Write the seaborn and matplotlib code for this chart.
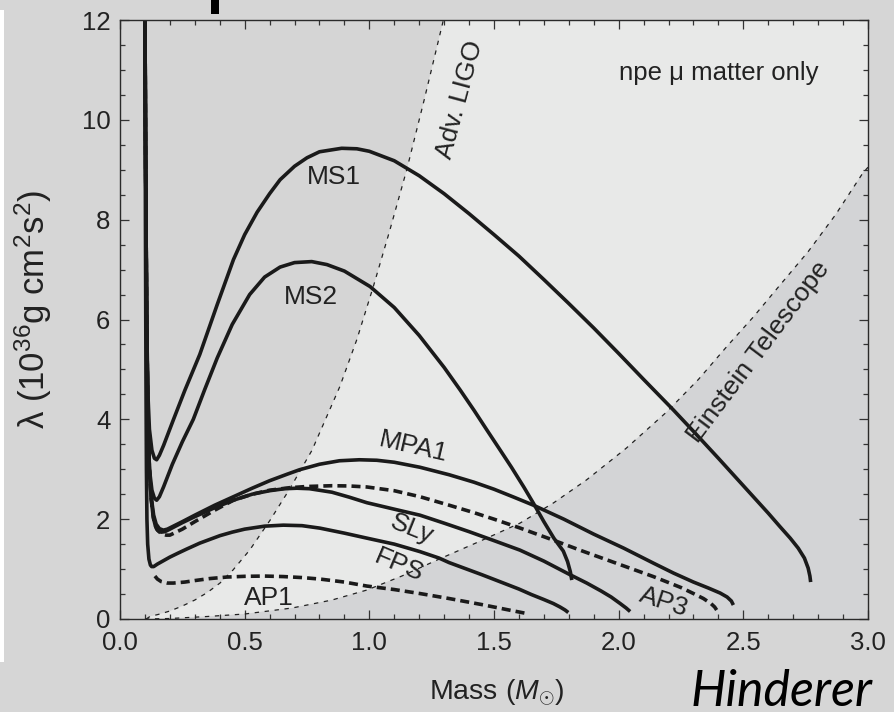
import numpy as np
import pandas as pd
import matplotlib
matplotlib.use("Agg")
import matplotlib.pyplot as plt
from matplotlib.patches import Rectangle
from matplotlib.ticker import MultipleLocator
import seaborn as sns

sns.set_theme(style="ticks")
plt.rcParams['font.family'] = ['Liberation Sans', 'DejaVu Sans']
plt.rcParams['mathtext.fontset'] = 'custom'
plt.rcParams['mathtext.rm'] = 'Liberation Sans'
plt.rcParams['mathtext.it'] = 'Liberation Sans:italic'

# ---------------- data ----------------
ms1_x = [0.100,0.103,0.107,0.112,0.118,0.128,0.138,0.147,0.158,0.175,0.214,0.26,0.32,0.39,0.455,0.5,0.55,0.6,0.642,0.7,0.75,0.8,0.889,0.95,1.0,1.1,1.2,1.3,1.4,1.5,1.6,1.7,1.8,1.9,2.0,2.1,2.219,2.3,2.4,2.5,2.6,2.647,2.688,2.72,2.745,2.76,2.767,2.77]
ms1_y = [12.3,9.0,6.0,4.5,3.8,3.38,3.22,3.19,3.28,3.48,3.99,4.58,5.3,6.3,7.2,7.7,8.15,8.52,8.8,9.07,9.24,9.36,9.43,9.42,9.37,9.18,8.88,8.52,8.12,7.7,7.27,6.8,6.32,5.83,5.32,4.8,4.19,3.76,3.22,2.67,2.12,1.85,1.62,1.42,1.22,1.02,0.86,0.74]

ms2_x = [0.100,0.103,0.107,0.112,0.118,0.128,0.138,0.147,0.158,0.175,0.21,0.25,0.294,0.34,0.39,0.45,0.52,0.58,0.642,0.7,0.769,0.83,0.9,1.003,1.1,1.2,1.3,1.364,1.42,1.471,1.52,1.57,1.62,1.658,1.7,1.74,1.778,1.795,1.806,1.812]
ms2_y = [12.3,9.0,6.0,4.0,3.0,2.58,2.42,2.38,2.45,2.65,3.1,3.55,4.0,4.6,5.23,5.9,6.5,6.85,7.05,7.14,7.16,7.1,6.97,6.66,6.24,5.68,5.04,4.59,4.18,3.79,3.42,3.04,2.64,2.32,1.95,1.62,1.36,1.15,0.95,0.78]

mpa1_x = [0.100,0.103,0.107,0.112,0.118,0.125,0.135,0.145,0.158,0.174,0.19,0.21,0.25,0.3,0.38,0.455,0.53,0.6,0.67,0.72,0.8,0.88,0.96,1.03,1.1,1.203,1.32,1.42,1.5,1.58,1.658,1.78,1.9,2.02,2.139,2.22,2.3,2.36,2.407,2.435,2.452,2.46]
mpa1_y = [12.3,9.0,6.0,4.0,3.0,2.45,2.08,1.9,1.81,1.78,1.8,1.85,1.95,2.08,2.28,2.45,2.62,2.77,2.9,2.99,3.1,3.17,3.19,3.18,3.14,3.04,2.89,2.74,2.6,2.44,2.28,2.0,1.70,1.42,1.12,0.92,0.74,0.62,0.52,0.44,0.36,0.28]

ap3_x = [0.100,0.103,0.107,0.112,0.118,0.125,0.135,0.147,0.165,0.185,0.2,0.25,0.3,0.38,0.455,0.53,0.6,0.68,0.75,0.85,0.92,0.99,1.1,1.203,1.32,1.42,1.5,1.6,1.738,1.85,1.95,2.05,2.139,2.2,2.25,2.3,2.34,2.37,2.385,2.393]
ap3_y = [12.3,9.0,6.0,4.0,3.0,2.4,2.0,1.8,1.71,1.68,1.68,1.8,1.95,2.18,2.38,2.5,2.58,2.63,2.655,2.67,2.665,2.645,2.57,2.45,2.28,2.13,2.0,1.83,1.58,1.37,1.19,1.01,0.85,0.73,0.63,0.51,0.41,0.31,0.24,0.18]

sly_x = [0.100,0.103,0.107,0.112,0.118,0.125,0.133,0.142,0.152,0.165,0.18,0.2,0.25,0.3,0.38,0.455,0.53,0.6,0.66,0.71,0.76,0.85,0.92,0.99,1.1,1.203,1.3,1.4,1.5,1.604,1.7,1.8,1.872,1.93,1.97,2.006,2.03,2.046]
sly_y = [12.3,9.0,6.0,4.0,3.0,2.42,2.05,1.86,1.77,1.74,1.75,1.8,1.93,2.05,2.23,2.38,2.5,2.57,2.61,2.62,2.61,2.54,2.44,2.33,2.2,2.08,1.92,1.75,1.57,1.38,1.16,0.9,0.72,0.56,0.44,0.31,0.22,0.15]

fps_x = [0.100,0.102,0.104,0.106,0.108,0.111,0.116,0.122,0.127,0.135,0.15,0.175,0.2,0.233,0.267,0.32,0.401,0.45,0.5,0.58,0.655,0.73,0.802,0.9,0.99,1.1,1.203,1.28,1.32,1.45,1.538,1.6,1.65,1.7,1.738,1.765,1.785,1.798]
fps_y = [12.3,8.0,5.0,3.0,2.0,1.5,1.2,1.08,1.05,1.05,1.1,1.17,1.24,1.32,1.4,1.52,1.67,1.74,1.8,1.86,1.88,1.87,1.82,1.72,1.62,1.5,1.35,1.22,1.13,0.89,0.72,0.6,0.49,0.39,0.31,0.24,0.18,0.13]

ap1_x = [0.14,0.15,0.165,0.19,0.214,0.26,0.3,0.36,0.428,0.5,0.58,0.655,0.73,0.802,0.9,0.99,1.1,1.203,1.32,1.45,1.55,1.631]
ap1_y = [0.86,0.8,0.75,0.72,0.72,0.74,0.77,0.81,0.84,0.855,0.86,0.85,0.83,0.8,0.74,0.66,0.59,0.51,0.41,0.29,0.19,0.11]

ligo_x = [0.105,0.12,0.16,0.2,0.25,0.3,0.35,0.401,0.453,0.52,0.602,0.68,0.77,0.882,0.95,1.016,1.08,1.15,1.22,1.297]
ligo_y = [0.0,0.05,0.1,0.16,0.26,0.38,0.53,0.72,0.98,1.38,1.98,2.6,3.38,4.66,5.6,6.66,7.75,9.0,10.4,12.0]

et_x = [0.1,0.2,0.35,0.5,0.69,0.85,0.99,1.13,1.28,1.44,1.604,1.74,1.872,2.03,2.193,2.32,2.434,2.54,2.647,2.76,2.87,2.98,3.0]
et_y = [0.0,0.01,0.05,0.1,0.22,0.38,0.58,0.86,1.2,1.55,1.92,2.33,2.79,3.42,4.15,4.8,5.46,6.05,6.69,7.36,8.1,8.94,9.05]

x_ticks = [0.0, 0.5, 1.0, 1.5, 2.0, 2.5, 3.0]
y_ticks = [0, 2, 4, 6, 8, 10, 12]

# ---------------- figure ----------------
W, H = 895, 712
fig = plt.figure(figsize=(W/100, H/100), dpi=100, facecolor='#d6d6d6')
ax = fig.add_axes([120/W, (H-619)/H, 748/W, 599/H])
ax.set_facecolor('#d5d5d5')
ax.set_xlim(0, 3)
ax.set_ylim(0, 12)

# light region between Adv. LIGO and Einstein Telescope curves
poly_x = list(ligo_x) + [3.0] + list(et_x[::-1])
poly_y = list(ligo_y) + [12.0] + list(et_y[::-1])
ax.fill(poly_x, poly_y, color='#e8e9e8', lw=0, zorder=0.5)
# region below ET
ax.fill(list(et_x) + [3.0], list(et_y) + [0.0], color='#d3d4d6', lw=0, zorder=0.5)

thin = dict(color='#222222', lw=0.9, dashes=(3.5, 4.5), sort=False, estimator=None)
sns.lineplot(x=ligo_x, y=ligo_y, ax=ax, **thin)
sns.lineplot(x=et_x, y=et_y, ax=ax, **thin)

solid = dict(color='#1a1a1a', lw=2.6, sort=False, estimator=None)
dash = dict(color='#1a1a1a', lw=2.6, dashes=(2.5, 1.4), sort=False, estimator=None)
for xs, ys in [(ms1_x, ms1_y), (ms2_x, ms2_y), (mpa1_x, mpa1_y), (sly_x, sly_y), (fps_x, fps_y)]:
    sns.lineplot(x=xs, y=ys, ax=ax, **solid)
for xs, ys in [(ap3_x, ap3_y), (ap1_x, ap1_y)]:
    sns.lineplot(x=xs, y=ys, ax=ax, **dash)
for l in ax.lines:
    l.set_solid_joinstyle('round')
    l.set_solid_capstyle('butt')

# ticks & spines
ax.set_xticks(x_ticks)
ax.set_xticklabels([f"{v:.1f}" for v in x_ticks])
ax.set_yticks(y_ticks)
ax.set_yticklabels([str(v) for v in y_ticks])
ax.xaxis.set_minor_locator(MultipleLocator(0.1))
ax.yaxis.set_minor_locator(MultipleLocator(0.5))
ax.tick_params(which='both', direction='in', top=True, right=True, color='#333333', width=0.9)
ax.tick_params(which='major', length=6.5, labelsize=18.5, labelcolor='#222222')
ax.tick_params(which='minor', length=3.8)
ax.tick_params(axis='x', which='major', pad=9)
ax.tick_params(axis='y', which='major', pad=7)
for s in ax.spines.values():
    s.set_color('#2a2a2a')
    s.set_linewidth(1.0)
    s.set_visible(True)
ax.set_xlabel('')
ax.set_ylabel('')

# annotations
tc = '#222222'
fs = 19
ax.text(0.856, 8.86, 'MS1', fontsize=fs, color=tc, ha='center', va='center')
ax.text(0.765, 6.46, 'MS2', fontsize=fs, color=tc, ha='center', va='center')
ax.text(1.177, 3.45, 'MPA1', fontsize=fs, color=tc, ha='center', va='center', rotation=-13)
ax.text(1.17, 1.80, 'SLy', fontsize=fs, color=tc, ha='center', va='center', rotation=-22)
ax.text(1.119, 1.07, 'FPS', fontsize=fs, color=tc, ha='center', va='center', rotation=-23)
ax.text(0.595, 0.43, 'AP1', fontsize=fs, color=tc, ha='center', va='center')
ax.text(2.18, 0.34, 'AP3', fontsize=fs, color=tc, ha='center', va='center', rotation=-18)
ax.text(1.364, 10.4, 'Adv. LIGO', fontsize=fs, color=tc, ha='center', va='center', rotation=75)
ax.text(2.561, 5.35, 'Einstein Telescope', fontsize=fs, color=tc, ha='center', va='center', rotation=53)
ax.text(2.40, 10.94, 'npe μ matter only', fontsize=18.5, color=tc, ha='center', va='center')

# axis labels
fig.text(33/W, 1 - 309/H, r'λ (10$^{36}$g cm$^{2}$s$^{2}$)', rotation=90, fontsize=25,
         color=tc, ha='center', va='center')
fig.text(497/W, 1 - 700/H, r'Mass ($M_{\odot}$)', fontsize=20.5, color=tc, ha='center', va='baseline')

# slide decorations
fig.text(781.7/W, 1 - 706.5/H, 'Hinderer', fontsize=36, style='italic', family=['Lato', 'DejaVu Sans'],
         color='black', ha='center', va='baseline')
fig.patches.append(Rectangle((0, 1 - 662/H), 4/W, 652/H, transform=fig.transFigure,
                             facecolor='white', edgecolor='none'))
fig.patches.append(Rectangle((211.5/W, 1 - 14/H), 7.5/W, 14/H, transform=fig.transFigure,
                             facecolor='black', edgecolor='none'))

fig.savefig('out.png', dpi=100, facecolor=fig.get_facecolor())
